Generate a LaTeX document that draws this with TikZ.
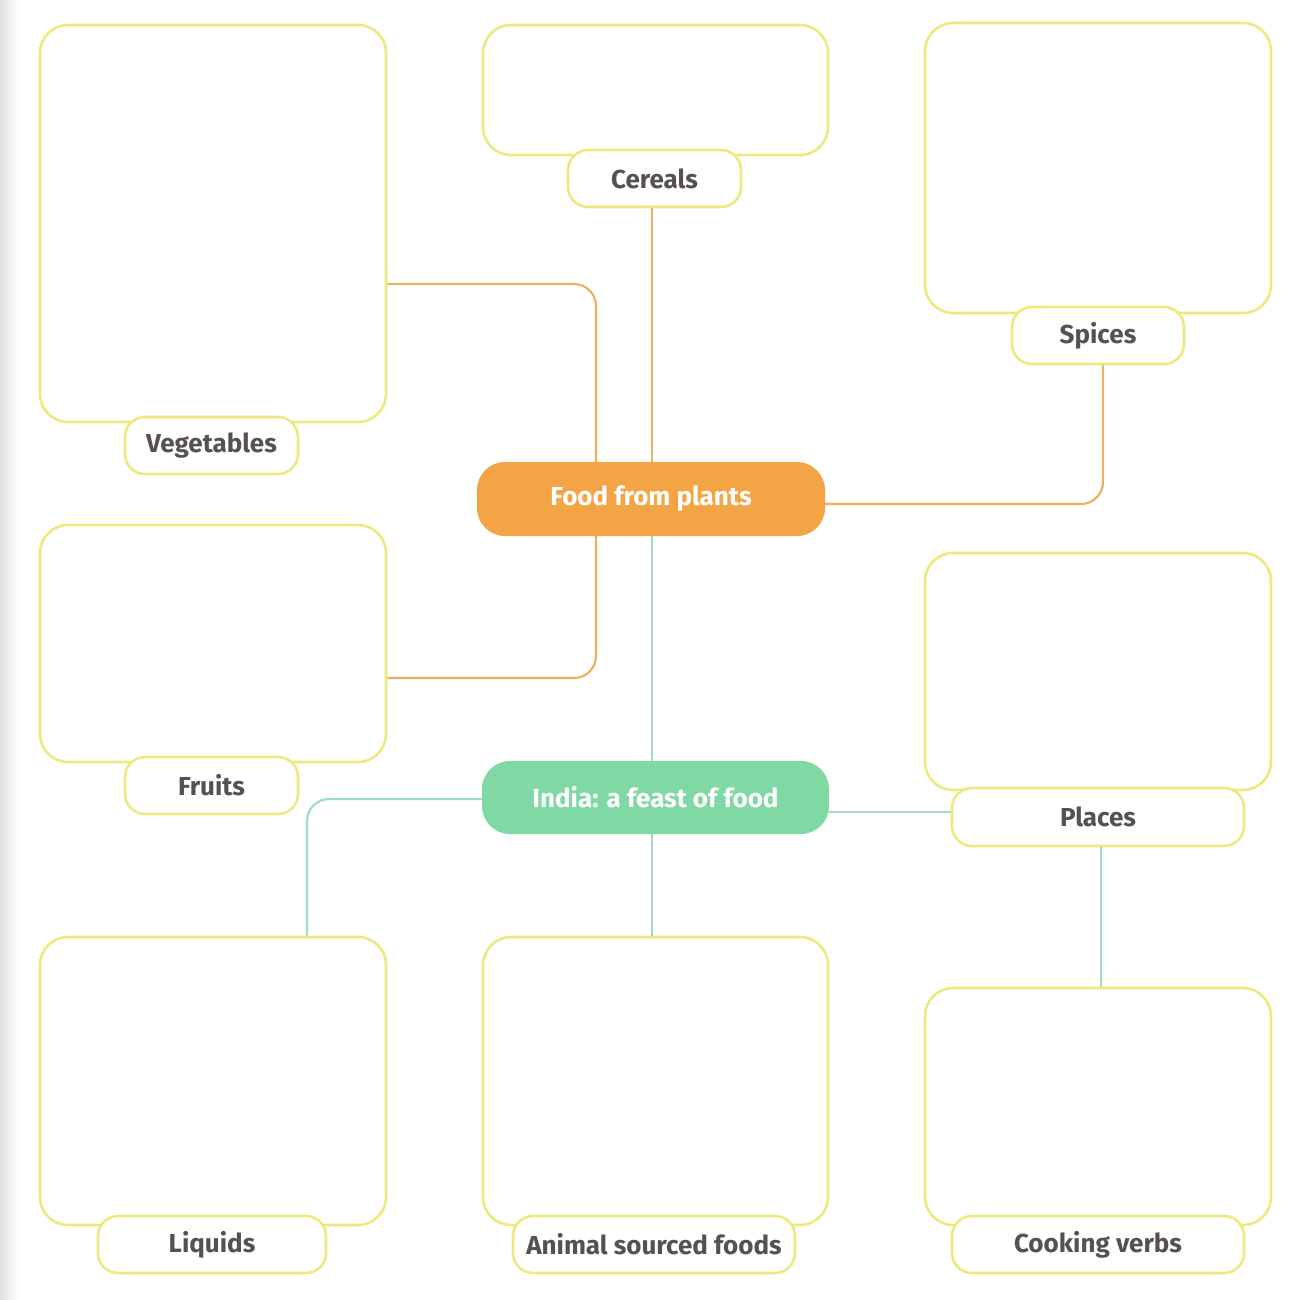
\documentclass[tikz,border=0pt]{standalone}
\usepackage{fontspec}
\setmainfont{Fira Sans}
\definecolor{boxy}{HTML}{EEE97E}
\definecolor{orfill}{HTML}{F3A546}
\definecolor{orline}{HTML}{EBB161}
\definecolor{grfill}{HTML}{80D8A4}
\definecolor{grline}{HTML}{9FDFBD}
\definecolor{txt}{HTML}{565056}
\begin{document}
\begin{tikzpicture}[x=1pt,y=-1pt,
  bigbox/.style={draw=boxy, line width=2.6pt, rounded corners=28pt, fill=white, inner sep=0pt},
  tag/.style={draw=boxy, line width=2.6pt, rounded corners=20pt, fill=white, inner sep=0pt,
    font=\fontsize{26}{29}\selectfont\bfseries, text=txt},
  hub/.style={rounded corners=28pt, inner sep=0pt, minimum width=348pt, minimum height=74pt,
    font=\fontsize{26}{29}\selectfont\bfseries, text=white},
  oline/.style={draw=orline, line width=2.2pt, rounded corners=22pt},
  gline/.style={draw=grline, line width=2.2pt, rounded corners=22pt}]
\useasboundingbox (0,0) rectangle (1300,1299);
\fill[white] (0,0) rectangle (1300,1299);
\shade[left color=black!12, right color=white] (0,0) rectangle (18,1299);

% big boxes
\node[bigbox, minimum width=346pt, minimum height=397pt] (veg) at (213,223.5) {};
\node[bigbox, minimum width=345pt, minimum height=130pt] (cer) at (655.5,90) {};
\node[bigbox, minimum width=346pt, minimum height=290pt] (spi) at (1098,168) {};
\node[bigbox, minimum width=346pt, minimum height=237pt] (fru) at (213,643.5) {};
\node[bigbox, minimum width=346pt, minimum height=237pt] (pla) at (1098,671.5) {};
\node[bigbox, minimum width=346pt, minimum height=288pt] (liq) at (213,1081) {};
\node[bigbox, minimum width=345pt, minimum height=288pt] (ani) at (655.5,1081) {};
\node[bigbox, minimum width=346pt, minimum height=237pt] (coo) at (1098,1106.5) {};

% hubs
\node[hub, fill=orfill] (food) at (651,499) {Food from plants};
\node[hub, fill=grfill, minimum width=347pt, minimum height=73pt] (india) at (655.5,797.5) {India: a feast of food};

% tags
\node[tag, minimum width=173pt, minimum height=57pt] (vegl) at (211.5,445.5) {Vegetables};
\node[tag, minimum width=173pt, minimum height=57pt] (cerl) at (654.5,178.5) {Cereals};
\node[tag, minimum width=172pt, minimum height=57pt] (spil) at (1098,335.5) {Spices};
\node[tag, minimum width=173pt, minimum height=57pt] (frul) at (211.5,785.5) {Fruits};
\node[tag, minimum width=292pt, minimum height=58pt] (plal) at (1098,817) {Places};
\node[tag, minimum width=228pt, minimum height=57pt] (liql) at (212,1244.5) {Liquids};
\node[tag, minimum width=282pt, minimum height=57pt] (anil) at (654,1244.5) {Animal sourced foods};
\node[tag, minimum width=292pt, minimum height=57pt] (cool) at (1098,1244.5) {Cooking verbs};

% orange connectors
\draw[oline] (veg.east |- 0,284) -- (596,284) -- (596,0 |- food.north);
\draw[oline] (652,0 |- cerl.south) -- (652,0 |- food.north);
\draw[oline] (1103,0 |- spil.south) -- (1103,504) -- (food.east |- 0,504);
\draw[oline] (fru.east |- 0,678) -- (596,678) -- (596,0 |- food.south);

% green connectors
\draw[gline] (652,0 |- food.south) -- (652,0 |- india.north);
\draw[gline] (india.west |- 0,799) -- (307,799) -- (307,0 |- liq.north);
\draw[gline] (652,0 |- india.south) -- (652,0 |- ani.north);
\draw[gline] (india.east |- 0,812) -- (plal.west |- 0,812);
\draw[gline] (1101,0 |- plal.south) -- (1101,0 |- coo.north);
\end{tikzpicture}
\end{document}
